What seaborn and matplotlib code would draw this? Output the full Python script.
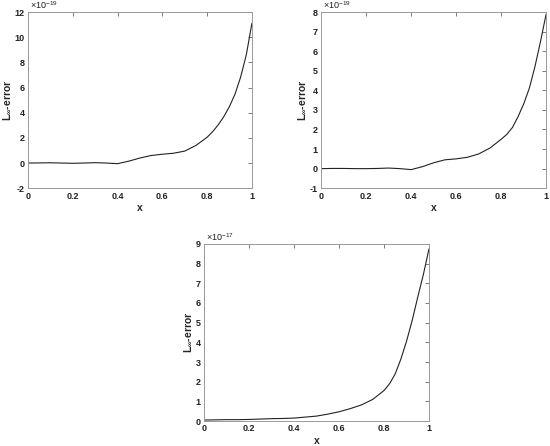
import numpy as np
import pandas as pd
import seaborn as sns
import matplotlib.pyplot as plt

# Data (values in units of the axis multiplier)
x_vals = [0, 0.05, 0.1, 0.15, 0.2, 0.25, 0.3, 0.35, 0.4, 0.45, 0.5, 0.55, 0.6,
          0.65, 0.7, 0.75, 0.8, 0.825, 0.85, 0.875, 0.9, 0.925, 0.95, 0.975, 1.0]
err_a = [0, 0.01, 0.02, 0.0, -0.02, 0.0, 0.03, 0.0, -0.05, 0.15, 0.4, 0.6, 0.7,
         0.78, 0.95, 1.4, 2.05, 2.5, 3.05, 3.7, 4.5, 5.5, 6.85, 8.6, 11.1]
err_b = [0, 0.01, 0.01, 0.0, 0.0, 0.01, 0.03, 0.0, -0.05, 0.1, 0.3, 0.45, 0.5,
         0.58, 0.75, 1.05, 1.5, 1.75, 2.1, 2.65, 3.3, 4.1, 5.2, 6.5, 7.9]
err_c = [0.05, 0.06, 0.07, 0.07, 0.08, 0.1, 0.12, 0.13, 0.15, 0.2, 0.25, 0.35, 0.47,
         0.63, 0.82, 1.1, 1.55, 1.9, 2.4, 3.15, 4.05, 5.1, 6.3, 7.45, 8.75]

exponents = [-19, -19, -17]
ylims = [(-2, 12), (-1, 8), (0, 9)]
ysteps = [2, 1, 1]
xticklabels = ["0", "0.2", "0.4", "0.6", "0.8", "1"]

sns.set_theme(style="white")
plt.rcParams['font.family'] = ['Liberation Sans', 'DejaVu Sans']
plt.rcParams['mathtext.fontset'] = 'custom'
plt.rcParams['mathtext.rm'] = 'Liberation Sans'
plt.rcParams['mathtext.bf'] = 'Liberation Sans:bold'
plt.rcParams['axes.unicode_minus'] = False

fig = plt.figure(figsize=(5.5, 4.46), dpi=100)
axes = [
    fig.add_axes([0.051, 0.578, 0.407, 0.395]),
    fig.add_axes([0.584, 0.578, 0.409, 0.395]),
    fig.add_axes([0.371, 0.056, 0.409, 0.397]),
]

for ax, y, (lo, hi), step, ex in zip(axes, [err_a, err_b, err_c], ylims, ysteps, exponents):
    df = pd.DataFrame({"x": x_vals, "err": y})
    sns.lineplot(x="x", y="err", data=df, ax=ax, color="#222222", linewidth=0.8)
    ax.set_xlim(0, 1)
    ax.set_ylim(lo, hi)
    ax.set_xticks(np.arange(0, 1.01, 0.2))
    ax.set_xticklabels(xticklabels)
    ax.set_yticks(np.arange(lo, hi + 0.1, step))
    ax.tick_params(direction="in", length=3, width=0.6, labelsize=6.5,
                   top=True, right=True, color="#666666", pad=2.5)
    for lab in ax.get_xticklabels() + ax.get_yticklabels():
        lab.set_fontweight("bold")
        lab.set_color("#222222")
    for sp in ax.spines.values():
        sp.set_color("#999999")
        sp.set_linewidth(0.7)
    ax.text(0.01, 1.005, r"$\times$10$^{%d}$" % ex, transform=ax.transAxes,
            fontsize=6.5, ha="left", va="bottom", color="#222222")
    ax.set_xlabel("x", fontsize=7.5, fontweight="bold", labelpad=1.5)
    ax.set_ylabel(r"L$_{\mathbf{\infty}}$-error", fontsize=7.5, fontweight="bold", labelpad=1)

plt.savefig("out.png", dpi=100)
